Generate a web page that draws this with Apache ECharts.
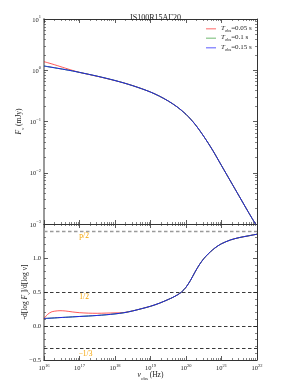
<!DOCTYPE html>
<html><head><meta charset="utf-8">
<script src="https://cdn.jsdelivr.net/npm/echarts@6/dist/echarts.min.js"></script>
<style>html,body{margin:0;padding:0;background:#fff}#c{width:294px;height:392px}</style>
</head><body><div id="c"></div>
<script>
// ---- data ----
const logNu = [16,16.1,16.2,16.3,16.45,16.6,16.8,17,17.25,17.5,17.75,18,18.25,18.5,18.75,19,19.25,19.5,19.75,20,20.25,20.5,20.75,21,21.25,21.5,21.75,22];
// log10 of F_nu in mJy
const logF_005 = [0.167,0.148,0.128,0.107,0.074,0.041,-0.002,-0.041,-0.080,-0.118,-0.159,-0.202,-0.248,-0.301,-0.36,-0.425,-0.505,-0.60,-0.715,-0.86,-1.05,-1.29,-1.56,-1.86,-2.16,-2.46,-2.76,-3.05];
const logF_01  = [0.083,0.071,0.060,0.048,0.030,0.012,-0.013,-0.042,-0.078,-0.116,-0.157,-0.200,-0.248,-0.301,-0.36,-0.425,-0.505,-0.60,-0.715,-0.86,-1.05,-1.29,-1.56,-1.86,-2.16,-2.46,-2.76,-3.05];
const logF_015 = [0.083,0.071,0.060,0.048,0.030,0.012,-0.013,-0.042,-0.078,-0.116,-0.157,-0.200,-0.248,-0.301,-0.36,-0.425,-0.505,-0.60,-0.715,-0.86,-1.05,-1.29,-1.56,-1.86,-2.16,-2.46,-2.76,-3.05];
// spectral index -d log F / d log nu
const logNuIdx = [16,16.1,16.2,16.3,16.45,16.6,16.8,17,17.25,17.5,17.75,18,18.25,18.5,18.75,19,19.25,19.5,19.625,19.75,19.875,20,20.125,20.25,20.375,20.5,20.625,20.75,20.875,21,21.25,21.5,21.75,22];
const idx_005 = [0.11,0.17,0.205,0.218,0.225,0.221,0.207,0.196,0.189,0.187,0.19,0.193,0.198,0.222,0.255,0.29,0.335,0.39,0.42,0.455,0.50,0.57,0.67,0.79,0.90,0.99,1.06,1.12,1.17,1.21,1.265,1.30,1.325,1.35];
const idx_01  = [0.11,0.113,0.116,0.119,0.124,0.128,0.134,0.14,0.147,0.155,0.165,0.178,0.195,0.222,0.255,0.29,0.335,0.39,0.42,0.455,0.50,0.57,0.67,0.79,0.90,0.99,1.06,1.12,1.17,1.21,1.265,1.30,1.325,1.35];
const idx_015 = [0.11,0.113,0.116,0.119,0.124,0.128,0.134,0.14,0.147,0.155,0.165,0.178,0.195,0.222,0.255,0.29,0.335,0.39,0.42,0.455,0.50,0.57,0.67,0.79,0.90,0.99,1.06,1.12,1.17,1.21,1.265,1.30,1.325,1.35];
const seriesNames = ['T_obs=0.05 s','T_obs=0.1 s','T_obs=0.15 s'];
const legendValues = ['0.05','0.1','0.15'];
const xTickExp = [16,17,18,19,20,21,22];
const topYTickExp = [-3,-2,-1,0,1];
const bottomYTicks = [-0.5,0,0.5,1.0];
const refLevels = [1.4, 0.5, 0, -1/3];
const refLabels = ['p/2','1/2','\u22121/3'];
const titleText = 'IS100R15A\u039320';

// ---- styling ----
const FONT = 'Liberation Serif';
const lineColors = ['rgba(255,0,0,0.65)','rgba(0,150,0,0.8)','#2424e8'];
const legendColors = ['#ff9a9a','#9fd09f','#9090ff'];
const orange = '#f5a300';

function fmtExp(v){ const n=Math.round(v); return n<0 ? '\u2212'+(-n) : ''+n; }
const supRich = {
  b:{fontFamily:FONT,fontSize:6.5,color:'#222',verticalAlign:'bottom'},
  s:{fontFamily:FONT,fontSize:4.5,color:'#222',verticalAlign:'bottom',padding:[0,0,4,0]}
};
const txtRich = {
  n:{fontFamily:FONT,fontSize:7.5,color:'#222',verticalAlign:'bottom',padding:[0,0,2,0]},
  i:{fontFamily:FONT,fontSize:7.5,color:'#222',fontStyle:'italic',verticalAlign:'bottom',padding:[0,0,2,0]},
  sub:{fontFamily:FONT,fontSize:5,color:'#222',verticalAlign:'bottom'}
};

function minorPositions(lo, hi){
  const out=[];
  for(let n=lo;n<hi;n++) for(let k=2;k<=9;k++) out.push(n+Math.log10(k));
  return out;
}
const xMinor = minorPositions(16,22);
const yMinorTop = minorPositions(-3,1);

function majorX(gi,pos,labels){
  return {type:'value',gridIndex:gi,position:pos,min:16,max:22,interval:1,
    axisLine:{show:true,onZero:false,lineStyle:{color:'#333',width:1}},
    axisTick:{show:true,inside:true,length:4,lineStyle:{color:'#333',width:0.8}},
    axisLabel:{show:labels,margin:3,formatter:v=>'{b|10}{s|'+fmtExp(v)+'}',rich:supRich},
    splitLine:{show:false}};
}
function minorAx(gi,pos,min,max,vals){
  return {type:'value',gridIndex:gi,position:pos,min:min,max:max,
    axisLine:{show:false,onZero:false},
    axisTick:{show:true,inside:true,length:2,customValues:vals,lineStyle:{color:'#333',width:0.6}},
    axisLabel:{show:false},splitLine:{show:false}};
}

const xAxes = [
  majorX(0,'bottom',false), majorX(0,'top',false),
  minorAx(0,'bottom',16,22,xMinor), minorAx(0,'top',16,22,xMinor),
  majorX(1,'bottom',true), majorX(1,'top',false),
  minorAx(1,'bottom',16,22,xMinor), minorAx(1,'top',16,22,xMinor)
];
Object.assign(xAxes[4],{name:'{i|\u03bd}{sub|obs}{n| (Hz)}',nameLocation:'middle',nameGap:11,
  nameMoveOverlap:false,nameTextStyle:{rich:txtRich}});

const yAxes = [
  {type:'value',gridIndex:0,position:'left',min:-3,max:1,interval:1,
    axisLine:{show:true,onZero:false,lineStyle:{color:'#9a9a9a',width:2}},
    axisTick:{show:true,inside:true,length:4,lineStyle:{color:'#333',width:0.8}},
    axisLabel:{show:true,margin:3,formatter:v=>'{b|10}{s|'+fmtExp(v)+'}',rich:supRich},
    splitLine:{show:false},
    name:'{i|F}{sub|\u03bd}{n| (mJy)}',nameLocation:'middle',nameGap:19,nameRotate:90,nameMoveOverlap:false,
    nameTextStyle:{rich:txtRich}},
  {type:'value',gridIndex:0,position:'right',min:-3,max:1,interval:1,
    axisLine:{show:true,onZero:false,lineStyle:{color:'#333',width:1}},
    axisTick:{show:true,inside:true,length:4,lineStyle:{color:'#333',width:0.8}},
    axisLabel:{show:false},splitLine:{show:false}},
  minorAx(0,'left',-3,1,yMinorTop), minorAx(0,'right',-3,1,yMinorTop),
  {type:'value',gridIndex:1,position:'left',min:-0.5,max:1.5,interval:0.5,
    axisLine:{show:true,onZero:false,lineStyle:{color:'#9a9a9a',width:2}},
    axisTick:{show:true,inside:true,length:4,lineStyle:{color:'#333',width:0.8}},
    minorTick:{show:true,splitNumber:5,length:2,lineStyle:{color:'#333',width:0.6}},
    axisLabel:{show:true,margin:3,fontFamily:FONT,fontSize:6.5,color:'#222',
      formatter:v=> bottomYTicks.indexOf(v)<0 ? '' : (v<0?'\u2212':'')+Math.abs(v).toFixed(1)},
    splitLine:{show:false},
    name:'{n|-d[log }{i|F}{sub|\u03bd}{n|]/d[log \u03bd]}',nameLocation:'middle',nameGap:13,nameRotate:90,nameMoveOverlap:false,
    nameTextStyle:{rich:txtRich}},
  {type:'value',gridIndex:1,position:'right',min:-0.5,max:1.5,interval:0.5,
    axisLine:{show:true,onZero:false,lineStyle:{color:'#333',width:1}},
    axisTick:{show:true,inside:true,length:4,lineStyle:{color:'#333',width:0.8}},
    minorTick:{show:true,splitNumber:5,length:2,lineStyle:{color:'#333',width:0.6}},
    axisLabel:{show:false},splitLine:{show:false}}
];

const topSets=[logF_005,logF_01,logF_015];
const botSets=[idx_005,idx_01,idx_015];
const series=[];
for(let s=0;s<3;s++){
  series.push({type:'line',name:seriesNames[s],xAxisIndex:0,yAxisIndex:0,
    data:logNu.map((x,i)=>[x,topSets[s][i]]),showSymbol:false,symbol:'none',smooth:0.3,
    lineStyle:{color:lineColors[s],width:1},itemStyle:{color:lineColors[s]},z:3+s,animation:false});
}
for(let s=0;s<3;s++){
  const ser={type:'line',name:seriesNames[s],xAxisIndex:4,yAxisIndex:4,
    data:logNuIdx.map((x,i)=>[x,botSets[s][i]]),showSymbol:false,symbol:'none',smooth:0.3,
    lineStyle:{color:lineColors[s],width:1},itemStyle:{color:lineColors[s]},z:3+s,animation:false};
  if(s===2){
    ser.markLine={silent:true,symbol:['none','none'],label:{show:false},animation:false,
      data:refLevels.map((v,i)=>({yAxis:v,lineStyle:{color:i===0?'#9a9a9a':'#222',width:i===0?1.3:0.9,type:[3.5,2.5]}}))};
    ser.markPoint={silent:true,symbol:'circle',symbolSize:0,animation:false,
      label:{show:true,position:'inside',formatter:'{b}',color:orange,fontFamily:FONT,fontSize:7.5},
      data:[{name:refLabels[0],coord:[17.13,1.32]},{name:refLabels[1],coord:[17.13,0.43]},{name:refLabels[2],coord:[17.17,-0.41]}]};
  }
  series.push(ser);
}

const chart=echarts.init(document.getElementById('c'),null,{renderer:'canvas'});
chart.setOption({
  animation:false,
  backgroundColor:'#fff',
  title:{text:titleText,left:150.5,top:9,textAlign:'center',
    textStyle:{fontFamily:FONT,fontSize:8,fontWeight:'normal',color:'#222'}},
  legend:{orient:'vertical',left:201,top:19.5,itemWidth:10,itemHeight:1.5,itemGap:1,
    icon:'rect',
    data:seriesNames.map((n,i)=>({name:n,itemStyle:{color:legendColors[i]}})),
    formatter:name=>'{i|T}{sub|obs}{n|=' + legendValues[seriesNames.indexOf(name)] + ' s}',
    textStyle:{rich:{
      n:{fontFamily:FONT,fontSize:7,color:'#222',verticalAlign:'bottom',padding:[0,0,1.5,0],lineHeight:8.5},
      i:{fontFamily:FONT,fontSize:7,color:'#222',fontStyle:'italic',verticalAlign:'bottom',padding:[0,0,1.5,0],lineHeight:8.5},
      sub:{fontFamily:FONT,fontSize:4.5,color:'#222',verticalAlign:'bottom',lineHeight:8.5}}}},
  grid:[{left:44,top:19,width:213,height:205},{left:44,top:224,width:213,height:136}],
  xAxis:xAxes, yAxis:yAxes, series:series
});
</script></body></html>
